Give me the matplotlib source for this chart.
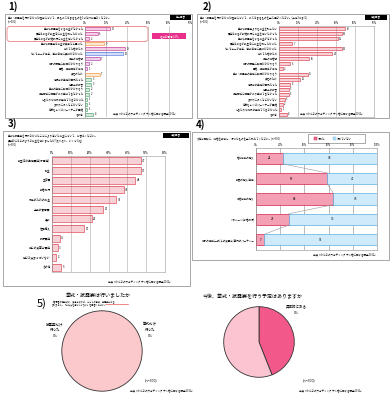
import numpy as np
import matplotlib.pyplot as plt
from matplotlib.patches import Rectangle, FancyBboxPatch

plt.rcParams['font.family'] = ['Noto Sans CJK JP', 'DejaVu Sans']

# ---- data ----
q1_labels = ["挙式や披露宴をするお金がなかった",
             "費用はあるが新生活にお金を残したかった",
             "費用はあるが新婚旅行にお金を使いたかった",
             "挙式や披露宴はお金の無駄だと思った",
             "おめでた婚のため",
             "セレモニーが苦手、挙式自体に興味がなかった",
             "親族の結婚観",
             "両家の調整に時間がかかりそう",
             "再婚、親族関係が複雑",
             "多忙のため",
             "妊娠中の準備が面倒だった",
             "仕事上の都合",
             "挙式の準備に時間がかかりそう",
             "親族関係に問題があり挙式できなかった",
             "しきたりや両家の意向でできなかった",
             "まわりに友人などがいない",
             "自分もしくはパートナーが再婚",
             "その他"]
q1_values = [12, 6, 2, 9, 19, 18, 7, 2, 1, 7, 3, 3, 2, 2, 1, 1, 1, 4]
q1_groups = ["m", "m", "m", "o", "m", "b", "p", "p", "p", "o",
             "g", "g", "g", "g", "g", "g", "g", "g"]

q2_labels = ["挙式や披露宴よりもお金を残したい",
             "費用はあるが新婚旅行にお金を使いたかった",
             "挙式や披露宴をするお金がなかった",
             "費用はあるが新生活にお金を残したかった",
             "セレモニーが苦手、挙式自体に興味がなかった",
             "おめでた婚のため",
             "親族の結婚観",
             "両家の調整に時間がかかりそう",
             "再婚、親族関係が複雑",
             "挙式・披露宴の準備に時間がかかりそう",
             "多忙のため",
             "妊娠中の準備が面倒だった",
             "仕事上の都合",
             "親族関係に問題があり挙式できなかった",
             "まわりに友人などがいない",
             "自分もしくはパートナーが再婚",
             "しきたりや両家の意向でできなかった",
             "その他"]
q2_values = [35, 33, 31, 7, 33, 28, 16, 6, 2, 15, 11, 6, 5, 5, 3, 2, 1, 4]

q3_labels = ["新生活の準備費用(家電等)", "貯金", "生活費", "新婚旅行",
             "家族のための貯金", "子供の養育費", "趣味", "住宅購入",
             "旅行費用", "親との食事会費用", "特には決まっていない", "その他"]
q3_values = [47, 47, 44, 38, 34, 27, 21, 17, 4, 3, 2, 5]

q4_labels = ["婚約指輪の購入", "新居の購入/準備", "結婚指輪の購入",
             "ハネムーン(新婚旅行)", "両家の親族(一部)との食事会/身内のパーティー"]
q4_yes = [22, 59, 64, 27, 7]
q4_no = [78, 41, 36, 73, 93]

q5_labels = ["披露宴だけ\n行った\n0%", "挙式だけ\n行った\n0%", "どちらも\n行っていない\n100%"]
q5_values = [0, 0, 100]

q6_labels = ["具体的にある\n0%", "具体的な予定\nはない(将来的\nにあるかもしれ\nない)\n44%", "予定はない\n56%"]
q6_values = [0, 44, 56]

source = "出典「みんなのウェディング ナシ婚に関する調査2012」"

W, H = 391, 400
fig = plt.figure(figsize=(W / 100, H / 100), dpi=100)

def box(x, y, w, h):
    return [x / W, 1 - (y + h) / H, w / W, h / H]

cv = fig.add_axes([0, 0, 1, 1])
cv.set_xlim(0, W)
cv.set_ylim(H, 0)
cv.axis('off')

TINY = 1.8
colors = {"m": "#d0439a", "o": "#f0a050", "b": "#5a7de0", "p": "#b84ab0", "g": "#5aaa78"}

def frame(x, y, w, h):
    cv.add_patch(Rectangle((x, y), w, h, fill=False, ec="#999999", lw=0.6))

def badge(x, y, w, h, txt, fc="black"):
    cv.add_patch(Rectangle((x, y), w, h, fc=fc, ec="none"))
    cv.text(x + w / 2, y + h / 2, txt, color="white", fontsize=TINY, ha="center", va="center")

def hbar_panel(rect, labels, values, cols, xmax, ticks, hgt, fs=TINY):
    ax = fig.add_axes(box(*rect))
    ax.set_facecolor("none")
    n = len(values)
    y = np.arange(n)
    for yi, v, c in zip(y, values, cols):
        ax.barh(yi, v, height=hgt, color=c, alpha=0.25, ec="none")
        ax.barh(yi, v, height=hgt, fill=False, ec=c, lw=0.5)
        ax.text(v + xmax * 0.015, yi, str(v), fontsize=fs, va="center")
    ax.set_ylim(n - 0.5, -0.5)
    ax.set_xlim(0, xmax)
    ax.set_yticks(y)
    ax.set_yticklabels(labels, fontsize=fs)
    ax.set_xticks(ticks)
    ax.set_xticklabels([f"{t}%" for t in ticks], fontsize=fs)
    ax.xaxis.tick_top()
    ax.tick_params(length=0, pad=1)
    ax.grid(axis="x", color="#aaaaaa", lw=0.4)
    ax.set_axisbelow(True)
    for s in ax.spines.values():
        s.set_color("#999999")
        s.set_linewidth(0.4)
    return ax

# ---- panel 1 ----
cv.text(8, 7, "1)", fontsize=7, fontweight="bold", va="center")
frame(5, 14, 187, 104)
cv.text(8, 17, "挙式・披露宴を行わなかった理由について、最もあてはまるものを1つだけお選びください。", fontsize=TINY, va="center")
cv.text(8, 21, "(n=300)", fontsize=TINY, va="center")
badge(170, 15, 21, 5, "単一回答")
cv.add_patch(FancyBboxPatch((7, 26.5), 141, 15, boxstyle="round,pad=0,rounding_size=3",
                            fill=False, ec="#f08080", lw=0.6))
badge(152, 33, 34, 6, "経済的事情 22%", fc="#e8308a")
ax1 = hbar_panel((85, 26, 105, 91), q1_labels, q1_values,
                 [colors[g] for g in q1_groups], 50, [0, 10, 20, 30, 40, 50], 0.6)
ax1.spines["right"].set_visible(False)
ax1.spines["top"].set_visible(False)
ax1.spines["bottom"].set_visible(False)
cv.text(113, 113, source, fontsize=TINY, va="center")

# ---- panel 2 ----
cv.text(203, 7, "2)", fontsize=7, fontweight="bold", va="center")
frame(197, 14, 192, 104)
cv.text(200, 17, "挙式・披露宴を行わなかった理由について、あてはまるものを全て選びください。(上位3つまで)", fontsize=TINY, va="center")
cv.text(200, 21, "(n=300)", fontsize=TINY, va="center")
badge(365, 15, 22, 5, "複数回答")
ax2 = hbar_panel((279, 26, 95, 91), q2_labels, q2_values,
                 ["#e04858"] * len(q2_values), 50, [0, 10, 20, 30, 40, 50], 0.6)
cv.text(300, 113, source, fontsize=TINY, va="center")

# ---- panel 3 ----
cv.text(8, 124, "3)", fontsize=7, fontweight="bold", va="center")
frame(3, 131, 187, 155)
cv.text(8, 136, "挙式や披露宴を行わなかったことにより浮いたお金について、お答えください。", fontsize=TINY, va="center")
cv.text(8, 140, "具体的にはどのようなお金を使いましたか?(それぞれ、いくつでも)", fontsize=TINY, va="center")
cv.text(8, 144, "(n=300)", fontsize=TINY, va="center")
badge(163, 133, 26, 5, "複数回答")
ax3 = hbar_panel((52, 156, 113, 116), q3_labels, q3_values,
                 ["#e04858"] * len(q3_values), 60, [0, 10, 20, 30, 40, 50, 60], 0.7, fs=2.0)
cv.text(108, 281, source, fontsize=TINY, va="center")

# ---- panel 4 ----
cv.text(196, 125, "4)", fontsize=7, fontweight="bold", va="center")
frame(192, 132, 197, 128)
cv.text(197, 138, "入籍と同時に、結婚を報告し、行ったものを全て教えてください。(n=300)", fontsize=TINY, va="center")
cv.add_patch(Rectangle((308, 134), 57, 9, fill=False, ec="#888888", lw=0.5))
cv.add_patch(Rectangle((314, 137), 3, 3, fc="#f07090", ec="#d02050", lw=0.3))
cv.text(318, 138.5, "行った", fontsize=TINY, va="center")
cv.add_patch(Rectangle((333, 137), 3, 3, fc="#bfe3f7", ec="#5ab0e0", lw=0.3))
cv.text(337, 138.5, "行っていない", fontsize=TINY, va="center")
ax4 = fig.add_axes(box(256, 148, 121, 102))
ax4.set_facecolor("none")
y4 = np.arange(len(q4_yes))
bh = 0.55
ax4.barh(y4, q4_yes, height=bh, color="#f4a0b4", ec="#d8204c", lw=0.5)
ax4.barh(y4, q4_no, left=q4_yes, height=bh, color="#cfeafa", ec="#5ab0e0", lw=0.5)
for yi, a, b in zip(y4, q4_yes, q4_no):
    ax4.text(a / 2, yi, str(a), fontsize=2.2, ha="center", va="center")
    ax4.text(a + b / 2, yi, str(b), fontsize=2.2, ha="center", va="center")
for i in range(len(q4_yes) - 1):
    ax4.plot([q4_yes[i], q4_yes[i + 1]], [y4[i] + bh / 2, y4[i + 1] - bh / 2],
             color="#999999", lw=0.4)
ax4.set_ylim(len(q4_yes) - 0.5, -0.5)
ax4.set_xlim(0, 100)
ax4.set_yticks(y4)
ax4.set_yticklabels(q4_labels, fontsize=TINY)
ax4.set_xticks([0, 20, 40, 60, 80, 100])
ax4.set_xticklabels([f"{t}%" for t in [0, 20, 40, 60, 80, 100]], fontsize=TINY)
ax4.xaxis.tick_top()
ax4.tick_params(length=0, pad=1)
ax4.grid(axis="x", color="#888888", lw=0.4)
ax4.set_axisbelow(True)
for s in ax4.spines.values():
    s.set_color("#888888")
    s.set_linewidth(0.4)
cv.text(345, 254, source, fontsize=TINY, ha="center", va="center")

# ---- panel 5 ----
cv.text(37, 304, "5)", fontsize=8, va="center")
cv.text(98, 296, "挙式・披露宴は行いましたか", fontsize=3.6, ha="center", va="center")
cv.text(52, 304, "※婚姻届の提出のみ、食事会のみは、ここでの挙式、披露宴には含\nまれません。「どちらも行っていない」を回答ください。",
        fontsize=1.5, va="center", linespacing=1.2)
cv.plot([105, 128], [303.5, 303.5], color="#e03030", lw=0.4)
ax5 = fig.add_axes(box(61, 310, 82, 82))
ax5.pie(q5_values, startangle=90, counterclock=False, radius=1,
        colors=["#fbc8cc", "#fbc8cc", "#fbc8cc"],
        wedgeprops=dict(ec="#333333", lw=0.6))
ax5.set_aspect("equal")
ax5.set_xlim(-1.02, 1.02)
ax5.set_ylim(-1.02, 1.02)
cv.text(55, 330, q5_labels[0], fontsize=2.5, ha="center", va="center", linespacing=1.6)
cv.text(150, 330, q5_labels[1], fontsize=2.5, ha="center", va="center", linespacing=1.6)
cv.text(102, 368, q5_labels[2], fontsize=2.5, ha="center", va="center", linespacing=1.6)
cv.text(151, 380, "(n=300)", fontsize=2.6, ha="center", va="center")
cv.text(162, 390, source, fontsize=1.8, ha="center", va="center")

# ---- panel 6 ----
cv.text(203, 296, "今後、挙式・披露宴を行う予定はありますか", fontsize=3.6, va="center")
ax6 = fig.add_axes(box(223, 306, 72, 72))
ax6.pie(q6_values, startangle=90, counterclock=False, radius=1,
        colors=["#f2588a", "#f2588a", "#fbc4d0"],
        wedgeprops=dict(ec="#333333", lw=0.6))
ax6.set_aspect("equal")
ax6.set_xlim(-1.02, 1.02)
ax6.set_ylim(-1.02, 1.02)
cv.text(296, 310, q6_labels[0], fontsize=2.5, ha="center", va="center", linespacing=1.6)
cv.text(277, 344, q6_labels[1], fontsize=2.5, ha="center", va="center", linespacing=1.4)
cv.text(238, 347, q6_labels[2], fontsize=2.5, ha="center", va="center", linespacing=1.6)
cv.text(309, 380, "(n=300)", fontsize=2.6, ha="center", va="center")
cv.text(331, 390, source, fontsize=1.8, ha="center", va="center")

fig.savefig("out.png", dpi=100)
